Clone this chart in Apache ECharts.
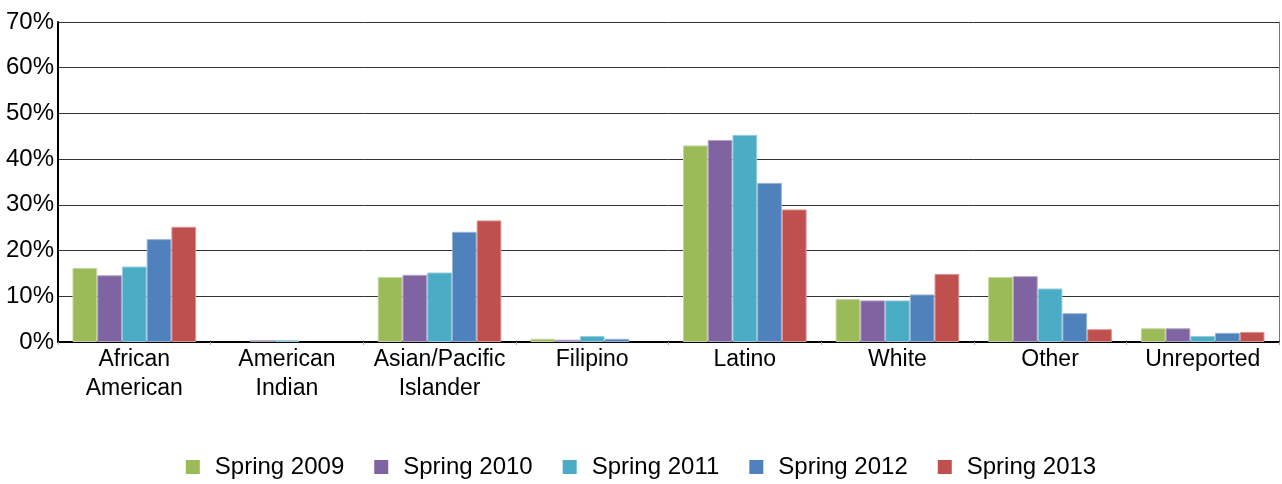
<!DOCTYPE html>
<html>
<head>
<meta charset="utf-8">
<script src="https://cdn.jsdelivr.net/npm/echarts@6/dist/echarts.min.js"></script>
<style>
  html, body { margin: 0; padding: 0; background: #fff; }
  #chart { width: 1282px; height: 484px; }
</style>
</head>
<body>
<div id="chart"></div>
<script>
// categories and series values (percent)
const categories = ['African\nAmerican', 'American\nIndian', 'Asian/Pacific\nIslander', 'Filipino', 'Latino', 'White', 'Other', 'Unreported'];
const seriesNames = ['Spring 2009', 'Spring 2010', 'Spring 2011', 'Spring 2012', 'Spring 2013'];
const spring2009 = [16.2, 0, 14.2, 0.7, 43.0, 9.4, 14.2, 3.0];
const spring2010 = [14.6, 0.4, 14.7, 0.5, 44.2, 9.1, 14.4, 3.0];
const spring2011 = [16.5, 0.4, 15.2, 1.3, 45.3, 9.1, 11.7, 1.3];
const spring2012 = [22.5, 0, 24.1, 0.7, 34.8, 10.4, 6.3, 2.0];
const spring2013 = [25.2, 0, 26.6, 0, 29.0, 14.9, 2.8, 2.2];
const yTicks = [0, 10, 20, 30, 40, 50, 60, 70];

const colors = ['#9BBB59', '#8064A2', '#4BACC6', '#4F81BD', '#C0504D'];
const borders = ['#C3D69B', '#B3A2C7', '#93CDDD', '#95B3D7', '#D99694'];
const allValues = [spring2009, spring2010, spring2011, spring2012, spring2013];

const myChart = echarts.init(document.getElementById('chart'));

const options = {
  animation: false,
  textStyle: { fontFamily: 'Liberation Sans, Arial, sans-serif' },
  grid: { left: 58, right: 3, top: 22, bottom: 142 },
  legend: {
    data: seriesNames,
    bottom: 0,
    left: 'center',
    icon: 'rect',
    itemWidth: 14,
    itemHeight: 14,
    itemGap: 30,
    itemStyle: { borderWidth: 0 },
    textStyle: { fontSize: 24, color: '#000', padding: [0, 0, 0, 10] },
  },
  xAxis: {
    type: 'category',
    data: categories,
    axisLine: { lineStyle: { color: '#000', width: 2 } },
    axisTick: { show: true, length: 3, lineStyle: { color: '#aaa' } },
    axisLabel: { fontSize: 23, color: '#000', lineHeight: 29, margin: 3, interval: 0 },
  },
  yAxis: [
    {
      type: 'value',
      min: yTicks[0],
      max: yTicks[yTicks.length - 1],
      interval: 10,
      axisLine: { show: true, lineStyle: { color: '#000', width: 2 } },
      axisTick: { show: false },
      axisLabel: { fontSize: 24, color: '#000', margin: 4, formatter: '{value}%' },
      splitLine: { lineStyle: { color: '#333', width: 1 } },
    },
    {
      type: 'value',
      position: 'right',
      min: 0,
      max: 70,
      interval: 10,
      axisLine: { show: true, lineStyle: { color: '#777', width: 1 } },
      axisTick: { show: false },
      axisLabel: { show: false },
      splitLine: { show: false },
    },
  ],
  series: seriesNames.map((name, i) => ({
    name: name,
    type: 'bar',
    // zero values are drawn as nothing, as in the original
    data: allValues[i].map((v) => (v === 0 ? '-' : v)),
    barGap: '0%',
    barCategoryGap: '19%',
    itemStyle: {
      color: colors[i],
      borderColor: borders[i],
      borderWidth: 1,
    },
  })),
};
myChart.setOption(options);
</script>
</body>
</html>
